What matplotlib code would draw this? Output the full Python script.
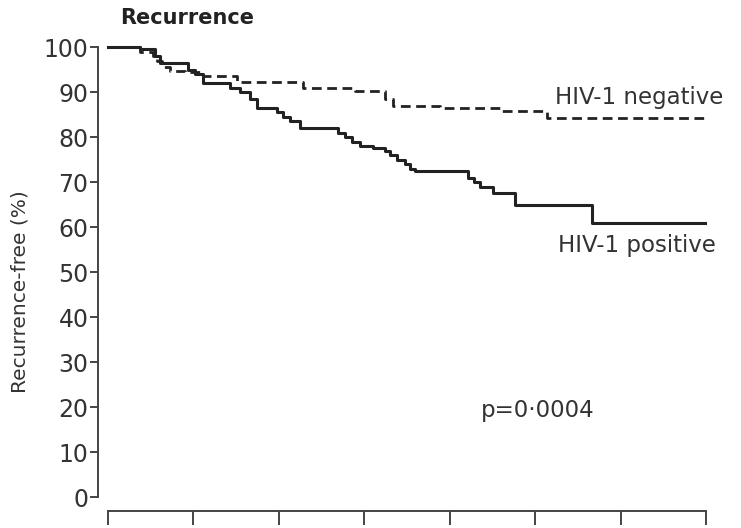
import numpy as np
import matplotlib.pyplot as plt

# Kaplan-Meier curves (time in years, % recurrence-free)
t_pos = [0, 0.37, 0.55, 0.61, 0.94, 1.02, 1.11, 1.43, 1.55, 1.66, 1.74, 1.98, 2.05,
         2.13, 2.25, 2.69, 2.78, 2.86, 2.95, 3.10, 3.24, 3.30, 3.38, 3.48, 3.54,
         3.59, 4.22, 4.29, 4.36, 4.51, 4.77, 5.67, 6.99]
s_pos = [100, 99.5, 98, 96.5, 95, 94, 92, 91, 90, 88.5, 86.5, 85.5, 84.5,
         83.5, 82, 81, 80, 79, 78, 77.5, 77, 76, 75, 74, 73,
         72.4, 71, 70, 69, 67.5, 64.8, 61, 61]

t_neg = [0, 0.37, 0.53, 0.57, 0.63, 0.73, 0.90, 1.11, 1.51, 2.28, 2.89, 3.24,
         3.34, 3.89, 4.59, 5.14, 6.99]
s_neg = [100, 99, 98, 97, 95.5, 94.8, 94.4, 93.5, 92.2, 91, 90.2, 88.5,
         87, 86.5, 85.8, 84.2, 84.2]

x_ticks = np.arange(0, 8)
y_ticks = np.arange(0, 101, 10)

ink = '#222222'
plt.rcParams['font.family'] = 'DejaVu Sans'

fig = plt.figure(figsize=(7.41, 5.28), dpi=100)
ax = fig.add_axes([0.1457, 0.0587, 0.807, 0.852])

ax.step(t_pos, s_pos, where='post', color=ink, lw=2.2, clip_on=False)
ax.step(t_neg, s_neg, where='post', color=ink, lw=2.0, ls=(0, (3.5, 2)), clip_on=False)

ax.set_xlim(0, 7)
ax.set_ylim(0, 100)
ax.set_xticks(x_ticks)
ax.set_xticklabels([])
ax.set_yticks(y_ticks)

for s in ['top', 'right']:
    ax.spines[s].set_visible(False)
ax.spines['left'].set_position(('outward', 7))
ax.spines['bottom'].set_position(('outward', 10))
ax.spines['left'].set_bounds(0, 100)
ax.spines['bottom'].set_bounds(0, 7)
for s in ['left', 'bottom']:
    ax.spines[s].set_color('#444444')
    ax.spines[s].set_linewidth(1.4)

ax.tick_params(axis='y', direction='out', length=6, width=1.4, colors='#444444',
               labelsize=17, pad=1)
ax.tick_params(axis='x', direction='out', length=10, width=1.4, colors='#444444')
for lbl in ax.get_yticklabels():
    lbl.set_color('#333333')

fig.text(0.162, 0.965, 'Recurrence', fontsize=15, fontweight='bold', color=ink,
         va='center', ha='left')
fig.text(0.027, (528 - 292) / 528, 'Recurrence-free (%)', rotation=90, fontsize=14.5,
         color='#333333', va='center', ha='center')

ax.text(5.23, 88.9, 'HIV-1 negative', fontsize=16.5, color='#333333', va='center')
ax.text(5.27, 56, 'HIV-1 positive', fontsize=16.5, color='#333333', va='center')
ax.text(4.36, 19.3, 'p=0\u00b70004', fontsize=16.5, color='#333333', va='center')

fig.savefig('out.png', dpi=100)
